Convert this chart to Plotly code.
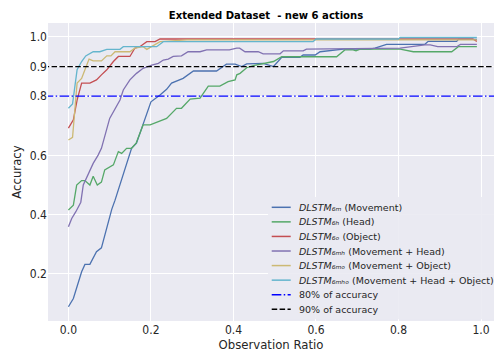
import plotly.graph_objects as go

# ---- data ----
mov_x = [0, 0.012, 0.032, 0.04, 0.052, 0.068, 0.08, 0.105, 0.113, 0.153, 0.165, 0.2, 0.222, 0.238, 0.25, 0.258, 0.278, 0.303, 0.359, 0.383, 0.404, 0.42, 0.432, 0.472, 0.497, 0.517, 0.561, 0.569, 0.598, 0.61, 0.666, 0.731, 0.743, 0.771, 0.864, 0.872, 0.941, 0.945, 0.99]
mov_y = [0.089, 0.117, 0.207, 0.232, 0.232, 0.275, 0.288, 0.418, 0.449, 0.624, 0.641, 0.781, 0.804, 0.823, 0.844, 0.849, 0.86, 0.885, 0.885, 0.908, 0.908, 0.9, 0.909, 0.911, 0.9, 0.931, 0.931, 0.939, 0.939, 0.95, 0.959, 0.959, 0.962, 0.975, 0.975, 0.985, 0.985, 0.992, 0.992]

head_x = [0, 0.012, 0.02, 0.032, 0.04, 0.052, 0.06, 0.07, 0.08, 0.088, 0.109, 0.121, 0.129, 0.141, 0.153, 0.164, 0.181, 0.198, 0.238, 0.262, 0.274, 0.295, 0.319, 0.339, 0.367, 0.387, 0.404, 0.408, 0.416, 0.432, 0.448, 0.464, 0.472, 0.497, 0.517, 0.65, 0.67, 0.69, 0.697, 0.707, 0.804, 0.836, 0.929, 0.945, 0.99]
head_y = [0.416, 0.432, 0.5, 0.515, 0.515, 0.5, 0.53, 0.5, 0.51, 0.551, 0.568, 0.613, 0.607, 0.624, 0.624, 0.641, 0.703, 0.703, 0.725, 0.759, 0.759, 0.79, 0.793, 0.834, 0.834, 0.849, 0.855, 0.872, 0.877, 0.896, 0.903, 0.908, 0.911, 0.917, 0.933, 0.933, 0.956, 0.956, 0.953, 0.959, 0.959, 0.95, 0.95, 0.967, 0.967]

obj_x = [0, 0.012, 0.021, 0.032, 0.052, 0.068, 0.08, 0.093, 0.109, 0.121, 0.149, 0.161, 0.173, 0.19, 0.21, 0.222, 0.98, 0.99]
obj_y = [0.692, 0.72, 0.787, 0.844, 0.844, 0.855, 0.872, 0.889, 0.917, 0.934, 0.934, 0.962, 0.967, 0.984, 0.984, 0.993, 0.993, 0.985]

mh_x = [0, 0.008, 0.018, 0.03, 0.036, 0.048, 0.06, 0.072, 0.08, 0.1, 0.117, 0.125, 0.133, 0.149, 0.165, 0.181, 0.202, 0.218, 0.23, 0.242, 0.254, 0.274, 0.29, 0.319, 0.335, 0.39, 0.408, 0.415, 0.428, 0.46, 0.472, 0.513, 0.521, 0.569, 0.577, 0.739, 0.804, 0.864, 0.877, 0.895, 0.941, 0.95, 0.99]
mh_y = [0.359, 0.387, 0.41, 0.442, 0.5, 0.534, 0.573, 0.601, 0.624, 0.725, 0.765, 0.787, 0.821, 0.855, 0.877, 0.894, 0.905, 0.911, 0.922, 0.925, 0.934, 0.936, 0.95, 0.95, 0.956, 0.956, 0.962, 0.962, 0.95, 0.95, 0.943, 0.943, 0.953, 0.953, 0.959, 0.96, 0.962, 0.973, 0.973, 0.967, 0.967, 0.975, 0.975]

mo_x = [0, 0.01, 0.021, 0.032, 0.04, 0.05, 0.06, 0.08, 0.093, 0.103, 0.113, 0.149, 0.161, 0.181, 0.19, 0.202, 0.222, 0.287, 0.99]
mo_y = [0.652, 0.661, 0.844, 0.86, 0.889, 0.925, 0.919, 0.919, 0.936, 0.936, 0.95, 0.95, 0.962, 0.967, 0.958, 0.967, 0.984, 0.99, 0.99]

mho_x = [0, 0.01, 0.021, 0.032, 0.042, 0.06, 0.076, 0.093, 0.125, 0.133, 0.214, 0.23, 0.593, 0.6, 0.8, 0.804, 0.99]
mho_y = [0.759, 0.774, 0.889, 0.917, 0.936, 0.95, 0.95, 0.958, 0.958, 0.967, 0.967, 0.984, 0.984, 0.993, 0.993, 0.998, 0.998]

ref_x = [-0.06, 1.05]
acc80 = [0.8, 0.8]
acc90 = [0.9, 0.9]

y_ticks = [0.2, 0.4, 0.6, 0.8, 0.9, 1.0]
y_labels = ["0.2", "0.4", "0.6", "0.8", "0.9", "1.0"]
x_ticks = [0.0, 0.2, 0.4, 0.6, 0.8, 1.0]
x_labels = ["0.0", "0.2", "0.4", "0.6", "0.8", "1.0"]

DASHDOT = "9.6px,2.4px,1.5px,2.4px"
DASHED = "5.5px,2.4px"

series = [
    (mov_x, mov_y, "#4C72B0", "<i>DLSTM₆ₘ</i> (Movement)", None),
    (head_x, head_y, "#55A868", "<i>DLSTM₆ₕ</i> (Head)", None),
    (obj_x, obj_y, "#C44E52", "<i>DLSTM₆ₒ</i> (Object)", None),
    (mh_x, mh_y, "#8172B2", "<i>DLSTM₆ₘₕ</i> (Movement + Head)", None),
    (mo_x, mo_y, "#CCB974", "<i>DLSTM₆ₘₒ</i> (Movement + Object)", None),
    (mho_x, mho_y, "#64B5CD", "<i>DLSTM₆ₘₕₒ</i> (Movement + Head + Object)", None),
    (ref_x, acc80, "blue", "80% of accuracy", DASHDOT),
    (ref_x, acc90, "black", "90% of accuracy", DASHED),
]

fig = go.Figure()
for xs, ys, col, name, dash in series:
    fig.add_trace(go.Scatter(x=xs, y=ys, mode="lines", name=name, showlegend=False,
                             line=dict(color=col, width=1.3, dash=dash or "solid")))

# ---- legend drawn as a box with samples and texts (paper coords of plot area) ----
shapes = [dict(type="rect", xref="paper", yref="paper", x0=0.4933, x1=1.02, y0=0.006, y1=0.416,
               fillcolor="rgba(234,234,242,0.9)", line=dict(width=0), layer="above")]
annotations = []
row_top, row_step = 113.7, 14.57
for i, (xs, ys, col, name, dash) in enumerate(series):
    yc = (row_top - i * row_step) / 298.0
    shapes.append(dict(type="line", xref="paper", yref="paper", x0=0.5016, x1=0.5442, y0=yc, y1=yc,
                       line=dict(color=col, width=1.5, dash=dash or "solid"), layer="above"))
    annotations.append(dict(xref="paper", yref="paper", x=0.558, y=yc, xanchor="left", yanchor="middle",
                            text=name, showarrow=False,
                            font=dict(family="DejaVu Sans", size=9.5, color="#262626")))

cond = "DejaVu Sans Condensed, Liberation Sans Narrow, sans-serif"
fig.update_layout(
    width=494, height=360,
    margin=dict(l=48, r=0, t=23, b=39),
    paper_bgcolor="white", plot_bgcolor="#EAEAF2",
    title=dict(text="<b>Extended Dataset  - new 6 actions</b>", x=0.5385, xanchor="center",
               yref="container", y=0.957, yanchor="middle",
               font=dict(family=cond, size=11.2, color="black")),
    xaxis=dict(range=[-0.0495, 1.0315], tickvals=x_ticks, ticktext=x_labels,
               showgrid=True, gridcolor="white", gridwidth=1, zeroline=False, automargin=False,
               tickfont=dict(family=cond, size=12, color="#262626"),
               title=dict(text="Observation Ratio", font=dict(family=cond, size=13, color="#262626"), standoff=3),
               ticks="", ticklen=0),
    yaxis=dict(range=[0.041, 1.047], tickvals=y_ticks, ticktext=y_labels,
               showgrid=True, gridcolor="white", gridwidth=1, zeroline=False, automargin=False,
               tickfont=dict(family=cond, size=12, color="#262626"),
               title=dict(text="Accuracy", font=dict(family=cond, size=13, color="#262626"), standoff=5),
               ticks="", ticklen=0),
    showlegend=False,
    shapes=shapes,
    annotations=annotations,
)

fig.write_html("out.html", config={"displayModeBar": False},
               post_script="document.body.style.margin='0px';")
